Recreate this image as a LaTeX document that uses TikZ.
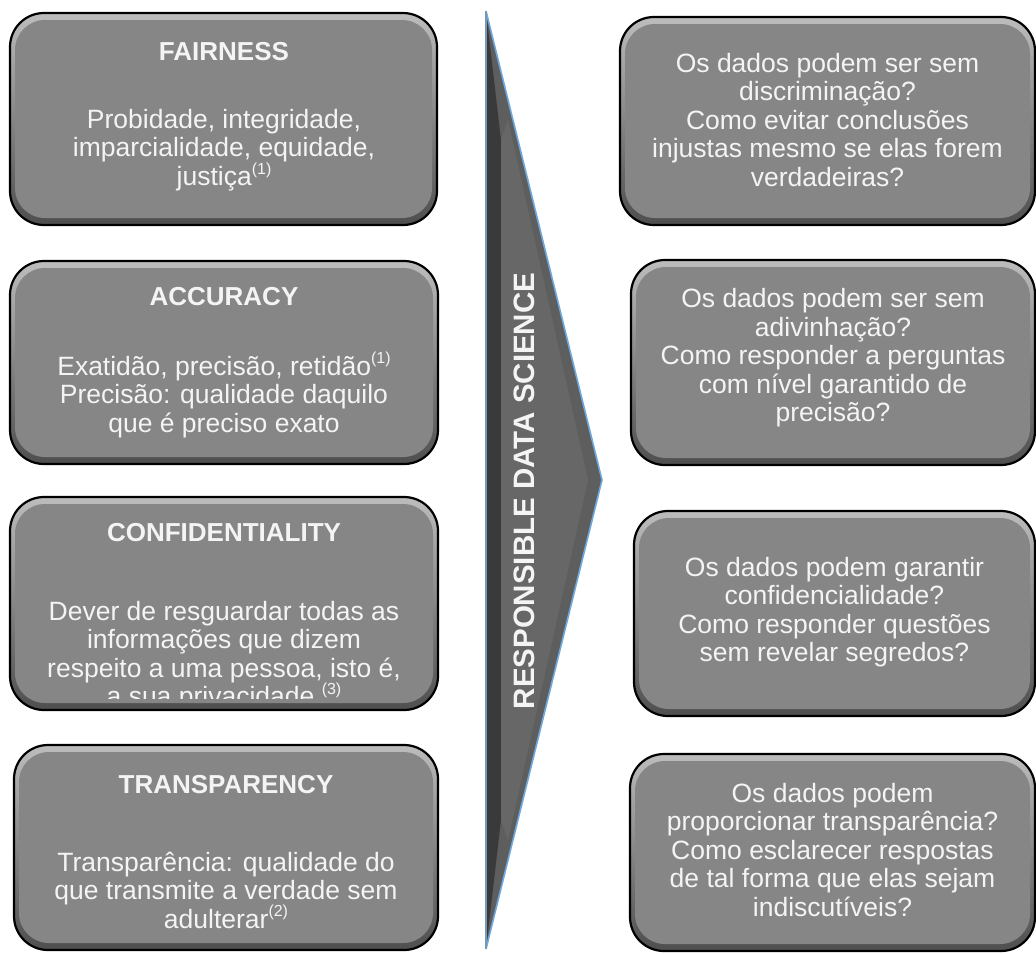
\documentclass[tikz,border=0pt]{standalone}
\usepackage{fontspec}
\setmainfont{Liberation Sans}
\usetikzlibrary{fit}
\definecolor{boxgray}{HTML}{868686}
\definecolor{bevtop}{HTML}{BDBDBD}
\definecolor{bevbot}{HTML}{4E4E4E}
\definecolor{arrowgray}{HTML}{5E5E5E}
\definecolor{arrowdark}{HTML}{3A3A3A}
\definecolor{arrowedge}{HTML}{6FA8DC}
\definecolor{txtwhite}{HTML}{F4F4F4}
\newcommand{\supr}[1]{\raisebox{0.42em}{\fontsize{16}{16}\selectfont #1}}
\newcommand{\bevelbox}[5]{%
  \shade[rounded corners=34pt, top color=bevtop, bottom color=bevbot] (#2,#3) rectangle (#4,#5);
  \fill[boxgray, rounded corners=30pt] (#2+5,#3+7) rectangle (#4-5,#5-7);
  \draw[line width=2.2pt, rounded corners=34pt] (#2,#3) rectangle (#4,#5);
  \node[fit={(#2,#3) (#4,#5)}, inner sep=0pt] (#1) {};
}
\begin{document}
\begin{tikzpicture}[x=1pt,y=-1pt,
  txt/.style={text=txtwhite, align=center, inner sep=0pt,
    font=\fontsize{26.5}{28.5}\selectfont},
  ttl/.style={txt, font=\fontsize{26}{28.5}\selectfont\bfseries}]
\useasboundingbox (0,0) rectangle (1036,954);

% central arrow
\fill[arrowgray] (486,11) -- (602,480) -- (486,949) -- cycle;
\fill[arrowdark] (486,11) -- (501,140) -- (501,820) -- (486,949) -- cycle;
\fill[arrowgray!85!white, opacity=0.4] (501,140) -- (508,120) -- (588,480) -- (508,840) -- (501,820) -- cycle;
\draw[arrowedge, line width=1.6pt, line join=miter] (486,11) -- (602,480) -- (486,949);
\draw[arrowedge!60!gray, line width=1.2pt] (486,11) -- (486,949);
\node[text=txtwhite, rotate=90, inner sep=0pt,
  font=\fontsize{29.5}{30}\selectfont\bfseries] (rds) at (524,491) {RESPONSIBLE DATA SCIENCE};

% left boxes
\bevelbox{fair}{10}{13}{437}{225}
\bevelbox{accu}{10}{261}{438}{464}
\bevelbox{conf}{10}{497}{438}{710}
\bevelbox{tran}{14}{745}{438}{950}

\node[ttl] (fair-t) at (224,52) {FAIRNESS};
\node[txt] (fair-b) at (224,150) {Probidade, integridade,\\imparcialidade, equidade,\\justiça\supr{(1)}};

\node[ttl] (accu-t) at (224,297) {ACCURACY};
\node[txt] (accu-b) at (224,395) {Exatidão, precisão, retidão\supr{(1)}\\Precisão: qualidade daquilo\\que é preciso exato};

\node[ttl] (conf-t) at (224,533) {CONFIDENTIALITY};
\begin{scope}
\clip (20,560) rectangle (430,698);
\node[txt, anchor=north] (conf-b) at (224,601) {Dever de resguardar todas as\\informações que dizem\\respeito a uma pessoa, isto é,\\a sua privacidade \supr{(3)}};
\end{scope}

\node[ttl] (tran-t) at (226,785) {TRANSPARENCY};
\node[txt] (tran-b) at (226,890) {Transparência: qualidade do\\que transmite a verdade sem\\adulterar\supr{(2)}};

% right boxes
\bevelbox{q1}{620}{17}{1035}{225}
\bevelbox{q2}{631}{260}{1035}{465}
\bevelbox{q3}{634}{511}{1035}{716}
\bevelbox{q4}{630}{754}{1035}{951}

\node[txt] (q1-t) at (827.5,120) {Os dados podem ser sem\\discriminação?\\Como evitar conclusões\\injustas mesmo se elas forem\\verdadeiras?};
\node[txt] (q2-t) at (833,358) {Os dados podem ser sem\\adivinhação?\\Como responder a perguntas\\com nível garantido de\\precisão?};
\node[txt] (q3-t) at (834.5,612) {Os dados podem garantir\\confidencialidade?\\Como responder questões\\sem revelar segredos?};
\node[txt] (q4-t) at (832.5,850) {Os dados podem\\proporcionar transparência?\\Como esclarecer respostas\\de tal forma que elas sejam\\indiscutíveis?};
\end{tikzpicture}
\end{document}
